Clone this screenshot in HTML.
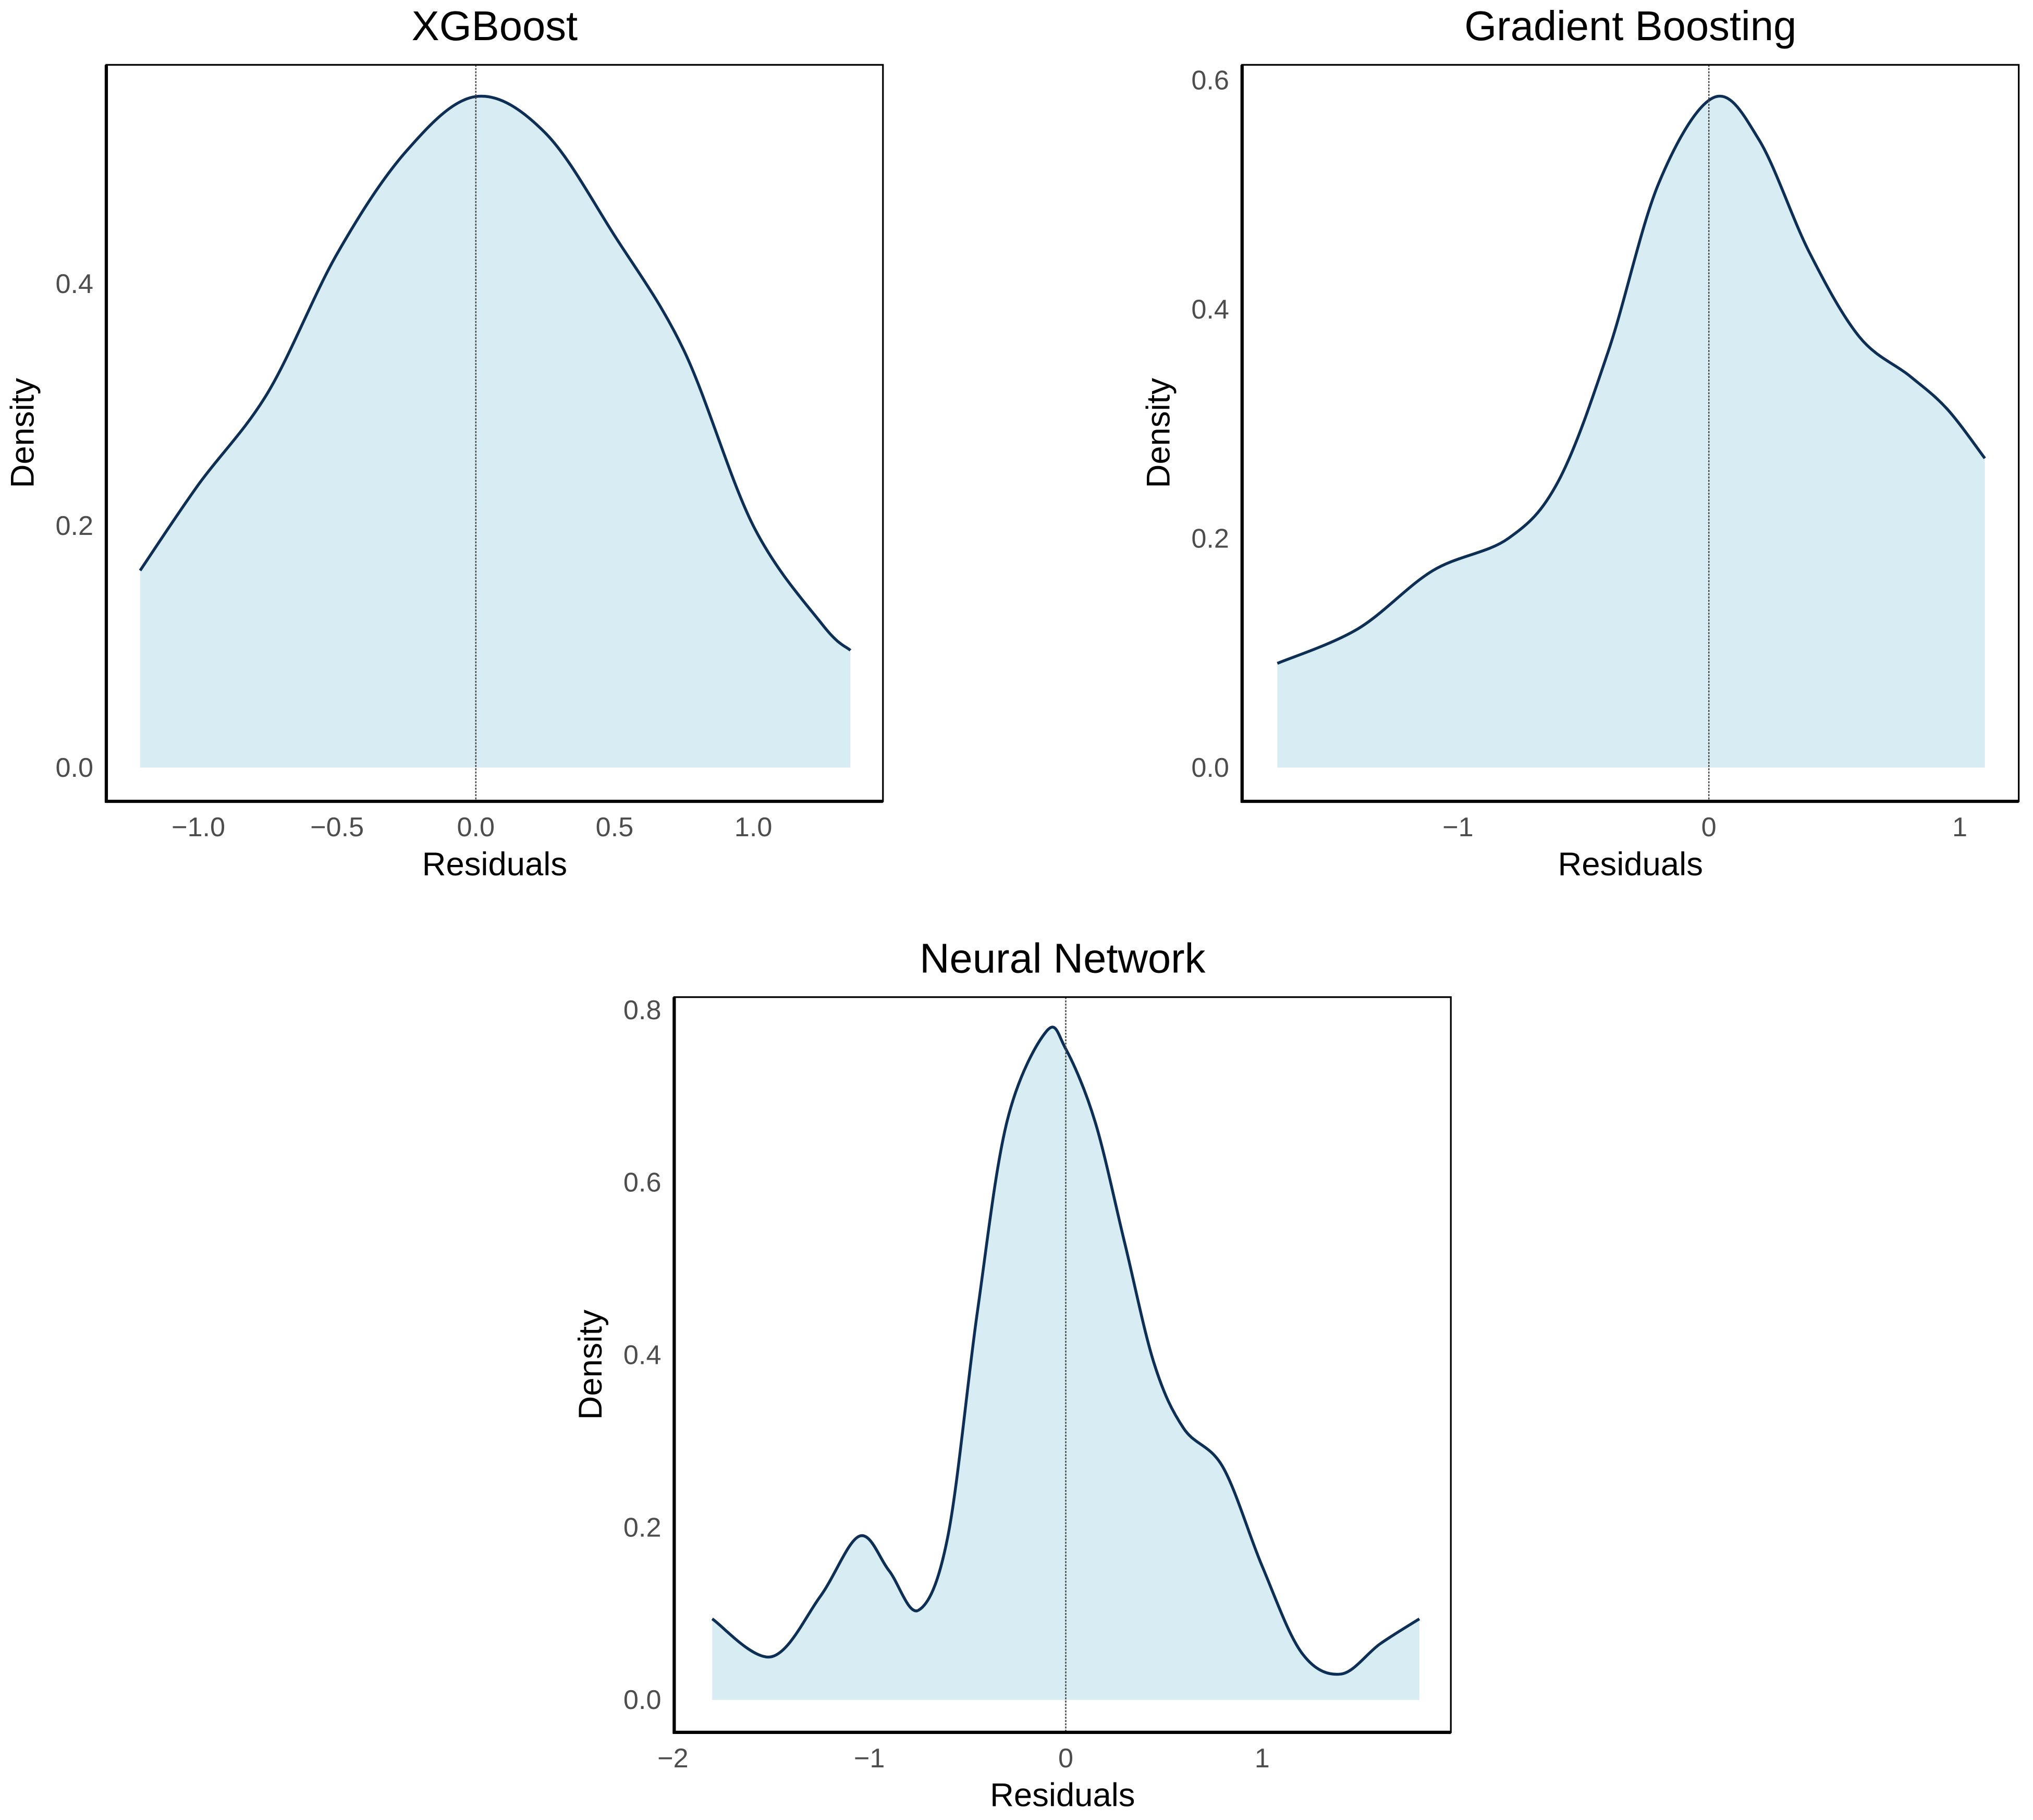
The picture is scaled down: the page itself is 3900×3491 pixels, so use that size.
<!DOCTYPE html>
<html><head><meta charset="utf-8"><style>
html,body{margin:0;padding:0;background:#fff}
svg{display:block}
text{font-family:"Liberation Sans",sans-serif}
</style></head><body>
<svg id="fig" width="3900" height="3491" viewBox="0 0 1568 1403.6" preserveAspectRatio="none" xmlns="http://www.w3.org/2000/svg"></svg>
<script>
// XGBoost
const xgbX = [-1.21,-1.0,-0.75,-0.5,-0.25,0.0,0.25,0.5,0.75,1.0,1.25,1.35];
const xgbY = [0.163,0.234,0.31,0.425,0.51,0.555,0.525,0.44,0.345,0.2,0.118,0.097];
// Gradient Boosting
const gbX = [-1.72,-1.4,-1.1,-0.8,-0.6,-0.4,-0.2,0.02,0.2,0.4,0.6,0.8,0.95,1.1];
const gbY = [0.091,0.121,0.172,0.20,0.25,0.364,0.51,0.585,0.548,0.45,0.376,0.342,0.313,0.27];
// Neural Network
const nnX = [-1.8,-1.5,-1.25,-1.05,-0.9,-0.75,-0.6,-0.45,-0.3,-0.1,0.0,0.15,0.3,0.45,0.6,0.8,1.0,1.2,1.4,1.6,1.8];
const nnY = [0.094,0.05,0.12,0.19,0.15,0.104,0.19,0.45,0.67,0.775,0.755,0.67,0.53,0.39,0.315,0.27,0.155,0.055,0.03,0.065,0.094];
// ticks
const xgbXTicks = [-1.0,-0.5,0.0,0.5,1.0];
const xgbXLabels = ["\u22121.0","\u22120.5","0.0","0.5","1.0"];
const xgbYTicks = [0.0,0.2,0.4];
const gbXTicks = [-1,0,1];
const gbXLabels = ["\u22121","0","1"];
const gbYTicks = [0.0,0.2,0.4,0.6];
const nnXTicks = [-2,-1,0,1];
const nnXLabels = ["\u22122","\u22121","0","1"];
const nnYTicks = [0.0,0.2,0.4,0.6,0.8];

const NS="http://www.w3.org/2000/svg";
const svg=document.getElementById('fig');
function mk(tag,attrs,parent){const e=document.createElementNS(NS,tag);for(const k in attrs)e.setAttribute(k,attrs[k]);(parent||svg).appendChild(e);return e;}

function panel(o){
  const g=mk('g',{});
  
  
  const sx=v=>o.x0px+(v-o.x0v)*o.xpu;
  const sy=v=>o.y0px-v*o.ypu;
  const pts=o.xs.map((x,i)=>[sx(x),sy(o.ys[i])]);
  let d='M'+pts[0][0]+','+pts[0][1];
  for(let i=0;i<pts.length-1;i++){
    const p0=pts[Math.max(0,i-1)],p1=pts[i],p2=pts[i+1],p3=pts[Math.min(pts.length-1,i+2)];
    const c1=[p1[0]+(p2[0]-p0[0])/6,p1[1]+(p2[1]-p0[1])/6];
    const c2=[p2[0]-(p3[0]-p1[0])/6,p2[1]-(p3[1]-p1[1])/6];
    d+=' C'+c1[0]+','+c1[1]+' '+c2[0]+','+c2[1]+' '+p2[0]+','+p2[1];
  }
  const area=mk('path',{d:d+' L'+pts[pts.length-1][0]+','+sy(0)+' L'+pts[0][0]+','+sy(0)+' Z',fill:'#d8edf3',stroke:'none'},g);
  
  
  const line=mk('path',{d:d,fill:'none',stroke:'#0e2f55','stroke-width':2.2},g);
  
  
  const zl=mk('line',{x1:sx(0),x2:sx(0),y1:o.by0,y2:o.by1,stroke:'#444','stroke-width':1,'stroke-dasharray':'1.5,1'},g);
  
  
  mk('rect',{x:o.bx0,y:o.by0,width:o.bx1-o.bx0,height:o.by1-o.by0,fill:'none',stroke:'#000','stroke-width':1.3},g);
  mk('line',{x1:o.bx0,x2:o.bx0,y1:o.by0,y2:o.by1+1,stroke:'#000','stroke-width':2.5},g);
  mk('line',{x1:o.bx0-1,x2:o.bx1,y1:o.by1,y2:o.by1,stroke:'#000','stroke-width':2.5},g);
  o.yt.forEach(v=>{
    const t=mk('text',{x:o.bx0-10,y:sy(v)+7,'text-anchor':'end','font-size':21,fill:'#4d4d4d'},g);
    t.textContent=v.toFixed(1);
    
    
  });
  o.xt.forEach((v,i)=>{
    const t=mk('text',{x:sx(v),y:o.by1+27,'text-anchor':'middle','font-size':21,fill:'#4d4d4d'},g);
    t.textContent=o.xl[i];
    
    
  });
  const xt=mk('text',{x:(o.bx0+o.bx1)/2,y:o.by1+57,'text-anchor':'middle','font-size':25.5,fill:'#000'},g);
  xt.textContent='Residuals';
  
  
  const cy=(o.by0+o.by1)/2;
  const yt=mk('text',{x:0,y:0,'text-anchor':'middle','font-size':25.5,fill:'#000',transform:'translate('+(o.bx0-56)+','+cy+') rotate(-90)'},g);
  yt.textContent='Density';
  
  
  const tt=mk('text',{x:(o.bx0+o.bx1)/2,y:o.by0-19,'text-anchor':'middle','font-size':32,fill:'#000'},g);
  tt.textContent=o.title;
  
  
}
panel({name:'xgboost',title:'XGBoost',xs:xgbX,ys:xgbY,xt:xgbXTicks,xl:xgbXLabels,yt:xgbYTicks,
  bx0:82,bx1:681,by0:50,by1:618,x0v:0,x0px:367,xpu:214,y0px:592,ypu:932.5});
panel({name:'gradient-boosting',title:'Gradient Boosting',xs:gbX,ys:gbY,xt:gbXTicks,xl:gbXLabels,yt:gbYTicks,
  bx0:958,bx1:1557,by0:50,by1:618,x0v:0,x0px:1318,xpu:193.5,y0px:592,ypu:883.5});
panel({name:'neural-network',title:'Neural Network',xs:nnX,ys:nnY,xt:nnXTicks,xl:nnXLabels,yt:nnYTicks,
  bx0:520,bx1:1119,by0:769,by1:1336,x0v:0,x0px:822,xpu:151.5,y0px:1311,ypu:665});
</script>
</body></html>
